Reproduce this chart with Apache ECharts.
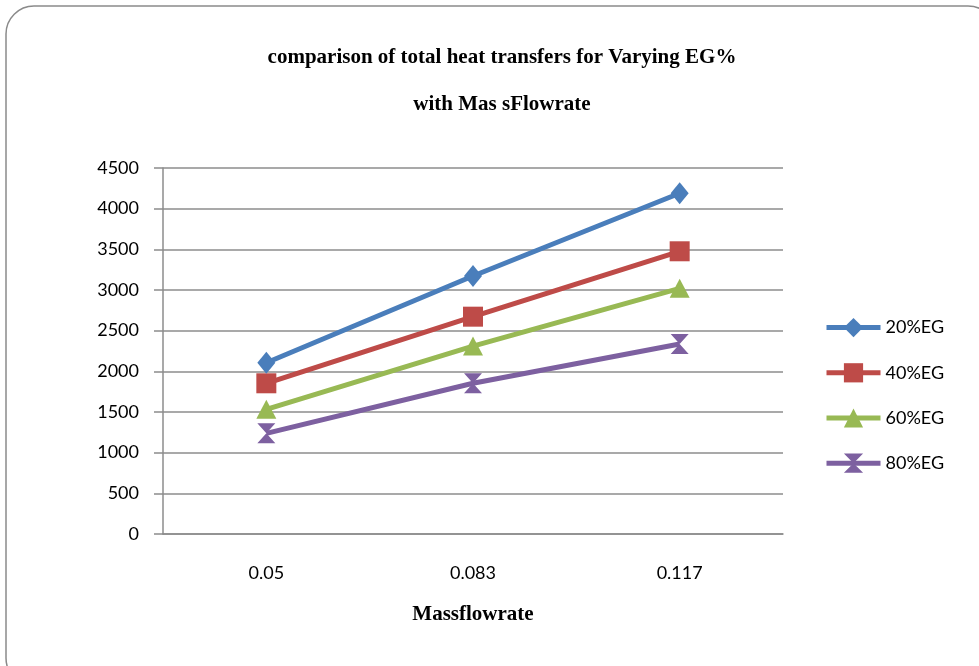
<!DOCTYPE html>
<html>
<head>
<meta charset="utf-8">
<script src="https://cdn.jsdelivr.net/npm/echarts@6/dist/echarts.min.js"></script>
<style>
html,body{margin:0;padding:0;background:#fff;}
#chart{width:979px;height:666px;}
</style>
</head>
<body>
<div id="chart"></div>
<script>
// 数据
var categories = ['0.05', '0.083', '0.117'];
var seriesNames = ['20%EG', '40%EG', '60%EG', '80%EG'];
var eg20 = [2106, 3172, 4189];
var eg40 = [1853, 2672, 3476];
var eg60 = [1533, 2311, 3021];
var eg80 = [1238, 1853, 2336];
var yTicks = [0, 4500, 500]; // min, max, interval

var colors = ['#4A7EBB', '#BE4B48', '#98B954', '#7D60A0'];
var symbols = ['diamond', 'rect', 'triangle', 'path://M0,0 L10,0 L5,5 L10,10 L0,10 L5,5 Z'];
var sizes = [[18, 22], [20, 20], [20, 19], [18, 20]];
var allData = [eg20, eg40, eg60, eg80];

var chart = echarts.init(document.getElementById('chart'));

var series = [];
for (var i = 0; i < allData.length; i++) {
	series.push({
		name: seriesNames[i],
		type: 'line',
		data: allData[i],
		symbol: symbols[i],
		symbolSize: sizes[i],
		lineStyle: {color: colors[i], width: 5},
		itemStyle: {color: colors[i]},
		z: 10 - i
	});
}

var option = {
	animation: false,
	graphic: [{
		type: 'rect',
		shape: {x: 6, y: 6, width: 990, height: 680, r: 28},
		style: {fill: 'none', stroke: '#8a8a8a', lineWidth: 1.5},
		silent: true
	}],
	title: {
		text: 'comparison of total heat transfers for Varying EG%\nwith Mas sFlowrate',
		left: 497,
		textAlign: 'center',
		top: 29,
		textStyle: {
			fontFamily: 'Liberation Serif',
			fontSize: 21,
			fontWeight: 'bold',
			color: '#000',
			lineHeight: 47
		}
	},
	legend: {
		orient: 'vertical',
		left: 824,
		top: 318,
		padding: 0,
		itemGap: 26,
		itemWidth: 54,
		itemHeight: 24,
		lineStyle: {width: 5},
		textStyle: {fontFamily: 'Lato', fontSize: 18, color: '#000'},
		data: seriesNames
	},
	grid: {left: 163, right: 196, top: 168, bottom: 132},
	xAxis: {
		type: 'category',
		data: categories,
		boundaryGap: true,
		name: 'Massflowrate',
		nameLocation: 'middle',
		nameGap: 70,
		nameTextStyle: {fontFamily: 'Liberation Serif', fontSize: 21, fontWeight: 'bold', color: '#000'},
		axisLine: {lineStyle: {color: '#8c8c8c', width: 1.5}},
		axisTick: {show: false},
		axisLabel: {fontFamily: 'Lato', fontSize: 18, color: '#000', margin: 30}
	},
	yAxis: {
		type: 'value',
		min: yTicks[0],
		max: yTicks[1],
		interval: yTicks[2],
		axisLine: {show: true, lineStyle: {color: '#8c8c8c', width: 1.5}},
		axisTick: {show: true, length: 9, lineStyle: {color: '#8c8c8c', width: 1.5}},
		splitLine: {lineStyle: {color: '#8c8c8c', width: 1.5}},
		axisLabel: {
			fontFamily: 'Lato', fontSize: 18, color: '#000', margin: 24,
			formatter: function (v) { return String(v); }
		}
	},
	series: series
};
chart.setOption(option);
</script>
</body>
</html>
